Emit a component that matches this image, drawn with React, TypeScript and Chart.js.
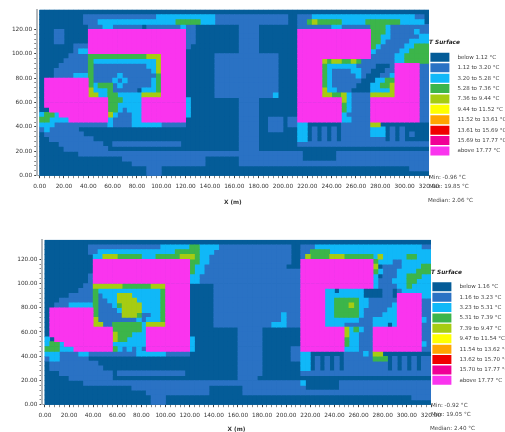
import React, { useEffect, useRef } from "react";
import { Chart, registerables } from "chart.js";

Chart.register(...registerables);

const classCodes = ["a", "b", "c", "d", "e", "f", "g", "h", "i", "j"];
const classColors = ["#045c98", "#2a72c4", "#10b8f8", "#3cb54a", "#a6cc12", "#ffff00", "#ffa500", "#f00000", "#f00096", "#fa34ee"];
const xLabelValues = [0, 20, 40, 60, 80, 100, 120, 140, 160, 180, 200, 220, 240, 260, 280, 300, 320];
const yLabelValues = [0, 20, 40, 60, 80, 100, 120];

const topLegend = ["below 1.12 °C", "1.12 to 3.20 °C", "3.20 to 5.28 °C", "5.28 to 7.36 °C", "7.36 to 9.44 °C", "9.44 to 11.52 °C", "11.52 to 13.61 °C", "13.61 to 15.69 °C", "15.69 to 17.77 °C", "above 17.77 °C"];
const bottomLegend = ["below 1.16 °C", "1.16 to 3.23 °C", "3.23 to 5.31 °C", "5.31 to 7.39 °C", "7.39 to 9.47 °C", "9.47 to 11.54 °C", "11.54 to 13.62 °C", "13.62 to 15.70 °C", "15.70 to 17.77 °C", "above 17.77 °C"];
const topStats = ["Min: -0.96 °C", "Max: 19.85 °C", "Median: 2.06 °C"];
const bottomStats = ["Min: -0.92 °C", "Max: 19.05 °C", "Median: 2.40 °C"];

// Each row, top to bottom: class letter followed by the grid column where the run ends.
const topRows = [
  "a80",
  "a9 b24 c36 b51 a53 b56 c77 b79 a80",
  "a9 b12 c28 d33 c36 b51 a53 b55 d56 e57 d62 c67 d74 c79 a80",
  "a10 b13 c15 b21 a22 b29 c30 b32 a41 b45 a53 b60 c62 b68 d71 c72 b80",
  "a3 b5 a10 j30 b32 a41 b45 a53 j68 d71 c72 b77 c78 b80",
  "a3 b5 a10 j30 b32 a41 b45 a53 j68 d70 c72 b78 c80",
  "a3 b5 a10 j30 b32 a41 b45 a53 j68 d70 c71 b76 c80",
  "a7 b10 j30 b31 a41 b45 a53 j68 d69 c70 b75 c77 d80",
  "a7 b8 c10 j30 a41 b45 a53 j68 c69 b74 c76 d80",
  "a6 b10 d22 e25 j30 a36 b49 a53 j68 b73 c75 d80",
  "a5 b10 d11 c24 e25 j30 a36 b49 a53 j58 e59 d60 e62 d64 e65 d66 b73 c75 d80",
  "a4 b10 d11 b22 c24 e25 j30 a36 b49 a53 j58 d59 c65 b69 a72 b73 j78 b80",
  "a3 b10 d11 b23 c24 e25 j30 a36 b49 a53 j58 d59 c60 b64 c66 b68 a71 b73 j78 b80",
  "a3 b7 c10 d11 b16 c17 b24 d25 j30 a36 b49 a53 j58 d59 c60 b65 c66 b67 a70 b72 c73 j78 b80",
  "a1 j10 d11 b15 c16 b17 c18 b23 c24 d25 j30 a36 b49 a53 j58 d59 c60 b66 a69 c71 d73 j78 b80",
  "a1 j10 d11 c12 d15 b16 c17 b23 c24 d25 j30 a36 b49 a53 j58 d59 c60 b65 a68 c70 d72 e73 j78 b80",
  "a1 j10 e11 c14 d15 b20 a21 c24 d25 j30 a36 b49 a53 j58 e59 c61 b64 a68 c72 e73 j78 b80",
  "a1 j10 e12 c14 d16 c21 e25 j30 a36 b48 c49 a53 j58 e60 d62 e63 c64 b68 e73 j78 b80",
  "a1 j14 d17 c21 j30 c31 a41 b45 a53 j62 e63 c64 b68 j78 b80",
  "a1 j14 d16 c21 j30 c31 a41 b45 a53 j62 d63 c64 b68 j78 b80",
  "a2 j14 d16 c17 b18 c21 j30 c31 a41 b45 a53 j62 d63 c64 b68 j78 b80",
  "c1 d3 c4 j14 e15 c16 b19 c21 j30 c31 a41 b45 a53 j62 c63 b68 j78 b80",
  "d2 c6 j14 c15 b19 c21 j30 a41 b45 a47 b50 a51 b53 j62 c64 b68 j78 b80",
  "c3 b14 c15 b19 c25 b30 a41 b45 a47 b50 a51 b53 c55 a62 b68 e70 a80",
  "b1 c2 b8 a41 b45 a47 b50 a53 c55 a56 b57 a58 b59 a60 b61 a62 b68 c71 a72 b73 a74 b75 a80",
  "a1 b9 a41 b45 a53 c55 a56 b57 a58 b59 a60 b61 a62 b68 c71 a72 b73 a74 b75 a76 b77 a80",
  "a2 b11 a41 b45 a53 c55 a56 b57 a58 b59 a60 b61 a62 b71 a72 b73 a74 b75 a80",
  "a4 b13 a15 b29 a41 b45 a53 b80",
  "a5 b14 a41 b45 a80",
  "a8 b54 a61 b80",
  "a17 b34 a41 b54 a61 b80",
  "a19 b34 a41 b80",
  "a22 b25 a76 b80",
  "a22 b25 a80",
];

const bottomRows = [
  "a80",
  "a9 b24 c30 d32 c36 b51 a53 b56 c78 b80",
  "a9 b11 c27 d32 c35 b51 a53 b55 d59 c80",
  "a10 c12 e15 d20 c23 d28 e31 d32 c34 b51 a53 b54 e55 d59 e62 d68 c69 e70 c75 d77 c80",
  "a10 j30 d32 c34 b51 a53 j68 d69 c72 b74 c80",
  "a10 j30 d31 c33 b50 a53 j68 e69 a70 b74 c78 d80",
  "a10 j30 d31 c33 b53 j68 d69 c70 b73 c77 d80",
  "a9 b10 j30 c32 b53 j68 c69 a70 b73 c75 d78 c80",
  "a9 b10 j30 c32 b53 j68 c69 b72 c75 d77 c80",
  "a8 b10 e16 d22 e25 j30 a35 b53 j68 c69 b73 c75 d76 c80",
  "a7 b10 d11 c24 d25 j30 a35 b53 j58 c60 a61 c66 a70 b72 a73 b74 c80",
  "a5 b10 d11 b12 c15 e18 c24 d25 j30 a35 b53 j58 c66 a70 b72 a73 j78 c80",
  "a3 b10 d11 b13 c15 e19 c24 d25 j30 a35 b53 j58 c60 d65 c67 b73 j78 b80",
  "a2 b5 c10 d11 b14 c15 d16 e20 c24 d25 j30 a35 b53 j58 c60 d63 e64 d65 c67 b72 c73 j78 b80",
  "a1 j10 d11 b15 c16 e20 c24 d25 j30 a35 b53 j58 c60 d65 c66 b71 c73 j78 b80",
  "a1 j10 d11 b16 e19 d20 b22 c24 d25 j30 a35 b49 c50 b53 j58 c60 d65 c66 b70 c73 j78 b80",
  "a1 j10 e11 b19 c20 b21 c24 d25 j30 a35 b49 c50 b53 j58 c65 b68 c73 j78 c79 b80",
  "a1 j10 e12 b14 d20 c21 e25 j30 a35 b47 c50 b53 j58 c62 b68 c71 a72 c73 j78 b80",
  "a1 j14 d20 c21 j30 a40 b45 a53 j62 e63 c64 d65 c66 b68 j78 b80",
  "a1 j14 e15 d18 c21 j30 a40 b45 a53 j62 e63 c65 b68 j78 b80",
  "c1 a2 j14 e15 d17 c21 j30 c31 a40 b45 a53 j62 d63 c65 b68 j78 b80",
  "c1 d3 c4 j14 c21 j30 c31 a40 b45 a53 j62 d63 c65 b68 j78 c79 b80",
  "d3 c6 j14 d15 c16 b17 c18 b19 c20 b21 j30 c31 a40 b45 a51 b53 j62 c65 b68 j78 b80",
  "c3 b7 c9 b19 c25 b30 a40 b45 a51 b53 c55 a62 b66 c67 b68 e70 a80",
  "b1 c3 b9 a40 b45 a51 b53 c55 a56 b57 a58 b59 a60 b61 a62 b68 d71 a72 b73 a74 b75 a76 b77 a78 b80",
  "a1 b11 a40 b45 a53 c55 a56 b57 a58 b59 a60 b61 a62 b71 a72 b73 a74 b75 a76 b77 a78 b80",
  "a1 b12 a40 b45 a53 c55 a56 b57 a58 b59 a60 b61 a62 b71 a72 b73 a74 b75 a76 b77 a78 b80",
  "a3 b14 a15 b29 a40 b45 a53 b80",
  "a5 b14 a40 b44 a80",
  "a8 b53 c54 a61 b80",
  "a18 b34 a41 b54 a61 b80",
  "a21 b34 a41 b80",
  "a22 b25 a76 b80",
  "a22 b25 a80",
];

const FONT = "'DejaVu Sans', sans-serif";
const CELL = 4;
const LABEL_GAP = "\u00a0\u00a0\u00a0";

function cellsFor(rows: string[], code: string) {
  const points: { x: number; y: number }[] = [];
  rows.forEach((row, r) => {
    let col = 0;
    for (const token of row.split(" ")) {
      const end = Number(token.slice(1));
      if (token[0] === code) {
        for (let c = col; c < end; c++) {
          points.push({ x: (c + 0.5) * CELL, y: (rows.length - r - 0.5) * CELL });
        }
      }
      col = end;
    }
  });
  return points;
}

function tickValues(labelled: number[]) {
  const values: { value: number }[] = [];
  const last = labelled[labelled.length - 1];
  for (let v = 0; v <= last; v += CELL) values.push({ value: v });
  return values;
}

// Base colour under the cells, so no white shows through where two cells meet.
const plotBase = {
  id: "plotBase",
  beforeDatasetsDraw(chart: any) {
    const { ctx, chartArea, scales } = chart;
    const left = scales.x.getPixelForValue(0);
    ctx.save();
    ctx.fillStyle = classColors[0];
    ctx.fillRect(left, chartArea.top, chartArea.right - left, chartArea.bottom - chartArea.top);
    ctx.restore();
  },
};

type PanelProps = {
  rows: string[];
  labels: string[];
  stats: string[];
  top: number;
  height: number;
  plotTop: number;
  axisLeft: number;
  legendWidth: number;
  axisHeight: number;
  paddingBottom: number;
  radius: number;
  titleTop: number;
  titleBottom: number;
  statPos: number[][];
};

function Panel(p: PanelProps) {
  const ref = useRef<HTMLCanvasElement | null>(null);
  useEffect(() => {
    const tickFont = { family: FONT, size: 5.8 };
    const tickColor = (ctx: any) => (ctx.tick && ctx.tick.value % 20 === 0 ? "#444" : "#888");
    const label = (v: any) => (Number(v) % 20 === 0 ? Number(v).toFixed(2) : "");
    const chart = new Chart(ref.current as HTMLCanvasElement, {
      type: "scatter",
      plugins: [plotBase],
      data: {
        datasets: classCodes.map((code, i) => ({
          label: LABEL_GAP + p.labels[i],
          data: cellsFor(p.rows, code),
          order: classCodes.length - i,
          backgroundColor: classColors[i],
          borderColor: "#c4ccd4",
          borderWidth: 1,
          pointStyle: "rect",
          pointRadius: p.radius,
          pointHoverRadius: p.radius,
          pointBackgroundColor: classColors[i],
          pointBorderWidth: 0,
          showLine: false,
        })),
      },
      options: {
        animation: false,
        responsive: false,
        events: [],
        layout: { padding: { top: p.plotTop, bottom: p.paddingBottom, left: 0, right: 0 } },
        plugins: {
          tooltip: { enabled: false },
          legend: {
            position: "right",
            align: "start",
            maxWidth: p.legendWidth,
            title: {
              display: true,
              position: "start",
              text: "T Surface",
              color: "#222",
              font: { family: FONT, size: 5.8, style: "italic", weight: "bold" },
              padding: { top: p.titleTop, bottom: p.titleBottom },
            },
            labels: {
              boxWidth: 19,
              boxHeight: 9,
              padding: 1.4,
              color: "#444",
              font: { family: FONT, size: 5.5 },
              sort: (a: any, b: any) => a.datasetIndex - b.datasetIndex,
            },
          },
        },
        scales: {
          x: {
            type: "linear",
            min: -2.4,
            max: 320,
            afterBuildTicks: (axis: any) => {
              axis.ticks = tickValues(xLabelValues);
            },
            afterFit: (axis: any) => {
              axis.height = p.axisHeight;
            },
            title: {
              display: true,
              text: "X (m)",
              color: "#333",
              font: { family: FONT, size: 5.8, weight: "bold" },
              padding: 0,
            },
            ticks: { autoSkip: false, maxRotation: 0, padding: 5, color: "#333", font: tickFont, callback: label },
            grid: { drawOnChartArea: false, tickLength: 2.5, tickColor },
            border: { color: "#9aa0a6" },
          },
          y: {
            type: "linear",
            min: 0,
            max: 136,
            afterBuildTicks: (axis: any) => {
              axis.ticks = tickValues(yLabelValues);
            },
            afterFit: (axis: any) => {
              axis.width = p.axisLeft;
            },
            ticks: { autoSkip: false, padding: 2, color: "#333", font: tickFont, callback: label },
            grid: { drawOnChartArea: false, tickLength: 2.5, tickColor },
            border: { color: "#b4b8bc", width: 2 },
          },
        },
      },
    } as any);
    return () => chart.destroy();
  }, []);
  return (
    <>
      <canvas
        ref={ref}
        width={505}
        height={p.height}
        style={{ position: "absolute", left: 0, top: p.top, width: 505, height: p.height }}
      />
      {p.stats.map((text, i) => (
        <div
          key={text}
          style={{
            position: "absolute",
            left: p.statPos[i][0],
            top: p.statPos[i][1] - 4,
            font: `5.6px/8px ${FONT}`,
            color: "#444",
            whiteSpace: "nowrap",
          }}
        >
          {text}
        </div>
      ))}
    </>
  );
}

export default function App() {
  return (
    <div
      style={{
        position: "fixed",
        left: 0,
        top: 0,
        width: 505,
        height: 432,
        overflow: "hidden",
        background: "#fff",
        filter: "blur(0.55px)",
      }}
    >
      <Panel
        rows={topRows}
        labels={topLegend}
        stats={topStats}
        top={0}
        height={210}
        plotTop={9.8}
        axisLeft={36.7}
        legendWidth={76}
        axisHeight={30}
        paddingBottom={4.3}
        radius={3.95}
        titleTop={30}
        titleBottom={4.7}
        statPos={[[429, 177], [429, 186], [428, 200]]}
      />
      <Panel
        rows={bottomRows}
        labels={bottomLegend}
        stats={bottomStats}
        top={232}
        height={205}
        plotTop={7.9}
        axisLeft={42}
        legendWidth={74}
        axisHeight={28}
        paddingBottom={4.3}
        radius={3.9}
        titleTop={30}
        titleBottom={4}
        statPos={[[431, 405], [431, 414], [430, 428]]}
      />
    </div>
  );
}
